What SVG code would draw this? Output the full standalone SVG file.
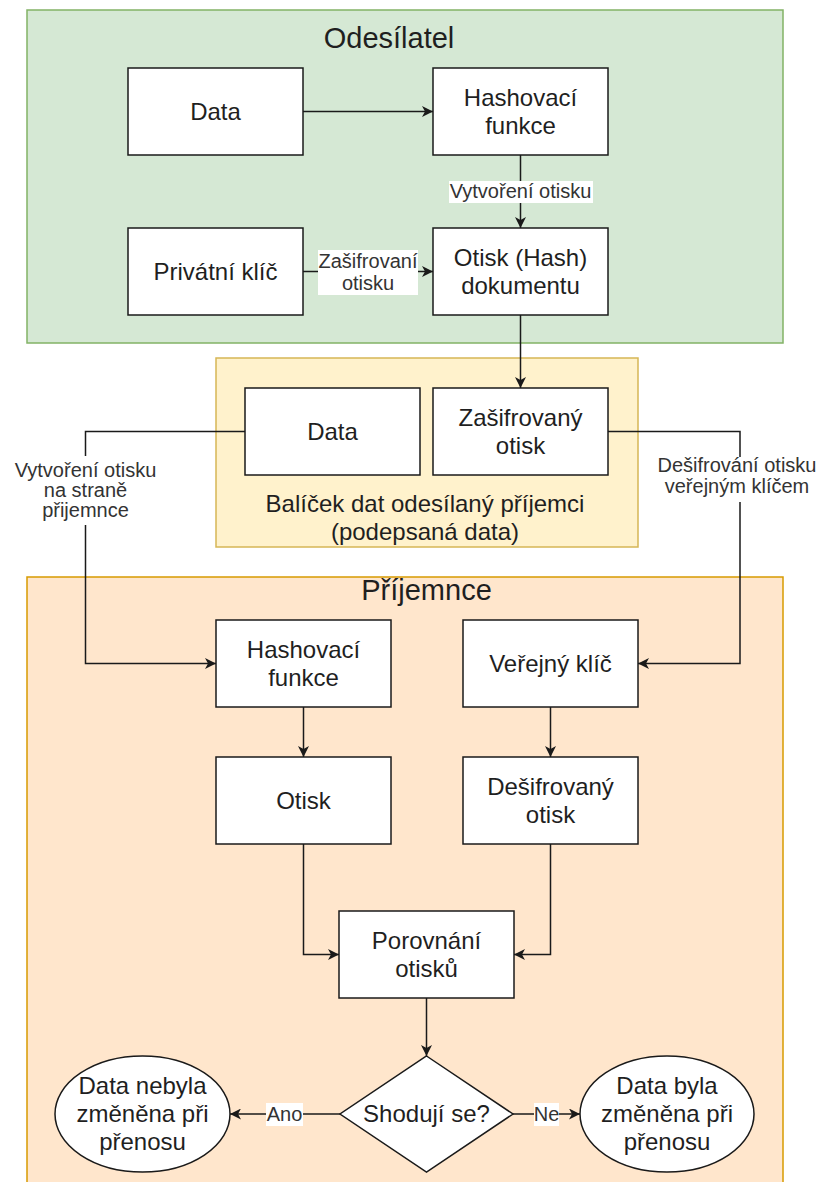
<svg xmlns="http://www.w3.org/2000/svg" width="821" height="1182" viewBox="0 0 821 1182">
  <defs>
    <style>
      text { font-family: "Liberation Sans", Arial, Helvetica, sans-serif; fill: #1f1f1f; text-anchor: middle; }
      .box { fill: #ffffff; stroke: #1a1a1a; stroke-width: 1.5; }
      .node { font-size: 24px; }
      .title { font-size: 29px; }
      .lbl { font-size: 20px; fill: #333333; }
      .lblbg { fill: #ffffff; }
      .edge { fill: none; stroke: #1a1a1a; stroke-width: 1.5; }
      .arrow { marker-end: url(#arrowhead); }
    </style>
    <marker id="arrowhead" markerUnits="userSpaceOnUse" markerWidth="12" markerHeight="11" refX="11" refY="5.5" orient="auto">
      <path d="M0,0 L11,5.5 L0,11 L3,5.5 Z" fill="#1a1a1a"/>
    </marker>
  </defs>

  <!-- Containers -->
  <g id="sender">
    <rect x="27" y="10" width="756" height="333" fill="#d5e8d4" stroke="#82b366" stroke-width="1.5"/>
    <text class="title" x="389" y="48">Odesílatel</text>
  </g>
  <g id="package">
    <rect x="216" y="358" width="422" height="189" fill="#fff2cc" stroke="#d6b656" stroke-width="1.5"/>
    <text class="node" x="425" y="512">Balíček dat odesílaný příjemci</text>
    <text class="node" x="425" y="540">(podepsaná data)</text>
  </g>
  <g id="receiver">
    <rect x="27" y="577" width="756" height="630" fill="#ffe6cc" stroke="#d79b00" stroke-width="1.5"/>
    <text class="title" x="426.5" y="600">Příjemnce</text>
  </g>

  <!-- Connectors -->
  <g id="connectors">
    <path class="edge arrow" d="M303,111.5 H433"/>
    <path class="edge arrow" d="M520.5,155 V228"/>
    <rect class="lblbg" x="449" y="181" width="144" height="22"/>
    <text class="lbl" x="520.5" y="198">Vytvoření otisku</text>

    <path class="edge arrow" d="M303,271.5 H433"/>
    <rect class="lblbg" x="318" y="250" width="100" height="45"/>
    <text class="lbl" x="368" y="268">Zašifrovaní</text>
    <text class="lbl" x="368" y="290">otisku</text>

    <path class="edge arrow" d="M520.5,315 V388"/>

    <path class="edge arrow" d="M245,431.5 H85.5 V663.5 H216"/>
    <rect class="lblbg" x="13" y="456" width="145" height="69"/>
    <text class="lbl" x="85.5" y="477">Vytvoření otisku</text>
    <text class="lbl" x="85.5" y="497">na straně</text>
    <text class="lbl" x="85.5" y="517">přijemnce</text>

    <path class="edge arrow" d="M608,431.5 H740 V663.5 H638"/>
    <rect class="lblbg" x="656" y="457" width="162" height="45"/>
    <text class="lbl" x="737" y="472">Dešifrování otisku</text>
    <text class="lbl" x="737" y="493">veřejným klíčem</text>

    <path class="edge arrow" d="M303.5,707 V757"/>
    <path class="edge arrow" d="M550.5,707 V757"/>
    <path class="edge arrow" d="M303.5,844 V954.5 H339"/>
    <path class="edge arrow" d="M550.5,844 V954.5 H514"/>
    <path class="edge arrow" d="M426.5,998 V1056"/>

    <path class="edge arrow" d="M340,1114 H230"/>
    <rect class="lblbg" x="266" y="1103" width="37" height="23"/>
    <text class="lbl" x="284.5" y="1121">Ano</text>

    <path class="edge arrow" d="M513,1114 H580"/>
    <rect class="lblbg" x="534" y="1103" width="25" height="23"/>
    <text class="lbl" x="546.5" y="1121">Ne</text>
  </g>

  <!-- Sender nodes -->
  <g id="data-sender">
    <rect class="box" x="128" y="68" width="175" height="87"/>
    <text class="node" x="215.5" y="120">Data</text>
  </g>
  <g id="hash-sender">
    <rect class="box" x="433" y="68" width="175" height="87"/>
    <text class="node" x="520.5" y="106">Hashovací</text>
    <text class="node" x="520.5" y="134">funkce</text>
  </g>
  <g id="private-key">
    <rect class="box" x="128" y="228" width="175" height="87"/>
    <text class="node" x="215.5" y="280">Privátní klíč</text>
  </g>
  <g id="document-hash">
    <rect class="box" x="433" y="228" width="175" height="87"/>
    <text class="node" x="520.5" y="266">Otisk (Hash)</text>
    <text class="node" x="520.5" y="294">dokumentu</text>
  </g>

  <!-- Package nodes -->
  <g id="data-package">
    <rect class="box" x="245" y="388" width="175" height="87"/>
    <text class="node" x="332.5" y="440">Data</text>
  </g>
  <g id="encrypted-hash">
    <rect class="box" x="433" y="388" width="175" height="87"/>
    <text class="node" x="520.5" y="426">Zašifrovaný</text>
    <text class="node" x="520.5" y="454">otisk</text>
  </g>

  <!-- Receiver nodes -->
  <g id="hash-receiver">
    <rect class="box" x="216" y="620" width="175" height="87"/>
    <text class="node" x="303.5" y="658">Hashovací</text>
    <text class="node" x="303.5" y="686">funkce</text>
  </g>
  <g id="public-key">
    <rect class="box" x="463" y="620" width="175" height="87"/>
    <text class="node" x="550.5" y="672">Veřejný klíč</text>
  </g>
  <g id="hash-receiver-result">
    <rect class="box" x="216" y="757" width="175" height="87"/>
    <text class="node" x="303.5" y="809">Otisk</text>
  </g>
  <g id="decrypted-hash">
    <rect class="box" x="463" y="757" width="175" height="87"/>
    <text class="node" x="550.5" y="795">Dešifrovaný</text>
    <text class="node" x="550.5" y="823">otisk</text>
  </g>
  <g id="compare">
    <rect class="box" x="339" y="911" width="175" height="87"/>
    <text class="node" x="426.5" y="949">Porovnání</text>
    <text class="node" x="426.5" y="977">otisků</text>
  </g>
  <g id="decision">
    <polygon class="box" points="426.5,1056 513,1114 426.5,1172 340,1114"/>
    <text class="node" x="426.5" y="1122">Shodují se?</text>
  </g>
  <g id="unchanged">
    <ellipse class="box" cx="142.5" cy="1114" rx="87.5" ry="58"/>
    <text class="node" x="142.5" y="1094">Data nebyla</text>
    <text class="node" x="142.5" y="1122">změněna při</text>
    <text class="node" x="142.5" y="1150">přenosu</text>
  </g>
  <g id="changed">
    <ellipse class="box" cx="667" cy="1114" rx="87" ry="58"/>
    <text class="node" x="667" y="1094">Data byla</text>
    <text class="node" x="667" y="1122">změněna při</text>
    <text class="node" x="667" y="1150">přenosu</text>
  </g>
</svg>
